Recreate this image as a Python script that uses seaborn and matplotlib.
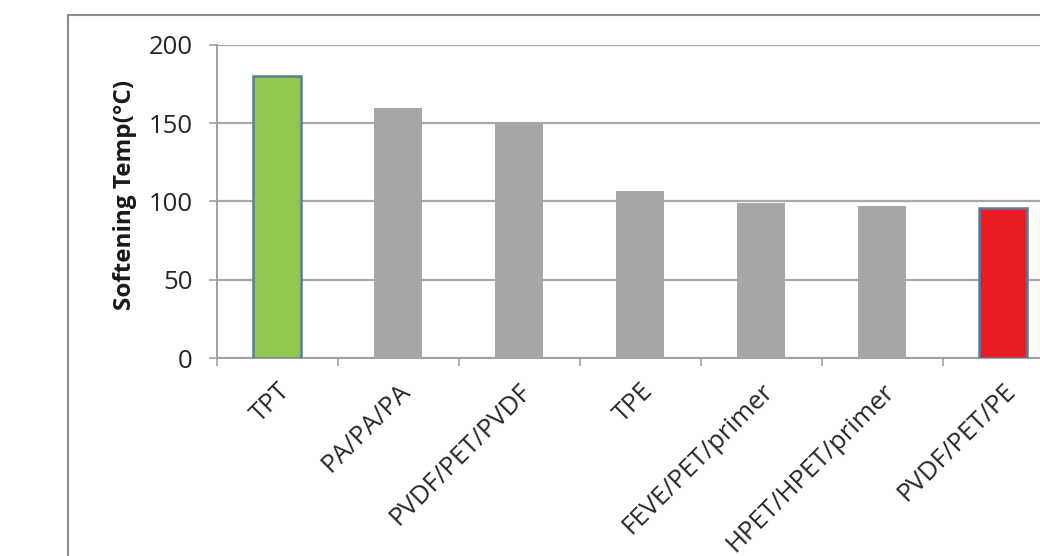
import matplotlib
matplotlib.use("Agg")
import matplotlib.pyplot as plt
import seaborn as sns
from matplotlib.patches import Rectangle

categories = ["TPT", "PA/PA/PA", "PVDF/PET/PVDF", "TPE", "FEVE/PET/primer",
              "HPET/HPET/primer", "PVDF/PET/PE"]
values = [180, 160, 150, 107, 99, 97, 96]
yticks = [0, 50, 100, 150, 200]
ylabel = "Softening Temp(°C)"

bar_colors = ["#92c64e", "#a6a6a6", "#a6a6a6", "#a6a6a6", "#a6a6a6", "#a6a6a6", "#ec1c24"]

sns.set_theme(style="white")
plt.rcParams["font.family"] = ["Open Sans", "DejaVu Sans"]

W, H = 1040, 556
fig = plt.figure(figsize=(W / 100, H / 100), dpi=100)
fig.patch.set_facecolor("white")

# outer frame (partly cut off at right/bottom like the reference)
fig.patches.append(Rectangle((68 / W, -0.1), 1.2, 1 - 15 / H + 0.1,
                             transform=fig.transFigure, fill=False,
                             edgecolor="#8c8c8c", linewidth=1.5, zorder=0))

ax = fig.add_axes([216.5 / W, 1 - 358 / H, 847 / W, (358 - 45) / H])
ax.set_facecolor("none")

sns.barplot(x=categories, y=values, hue=categories, palette=bar_colors,
            order=categories, hue_order=categories, width=0.39,
            legend=False, saturation=1, ax=ax, zorder=3)

for i, p in enumerate(ax.patches):
    if i == 0 or i == len(categories) - 1:
        p.set_edgecolor("#5b7c99")
        p.set_linewidth(1.8)
    else:
        p.set_linewidth(0)

ax.set_xlim(-0.5, len(categories) - 0.5)
ax.set_ylim(0, 200)
ax.set_yticks(yticks)
ax.yaxis.grid(True, color="#a8a8a8", linewidth=1.6, zorder=0)
ax.set_axisbelow(True)

for s in ["top", "right"]:
    ax.spines[s].set_visible(False)
for s in ["left", "bottom"]:
    ax.spines[s].set_visible(True)
    ax.spines[s].set_color("#a0a0a0")
    ax.spines[s].set_linewidth(1.4)

ax.tick_params(axis="y", which="major", left=True, length=6, width=1.2,
               color="#a0a0a0", pad=11, labelsize=18.5, labelcolor="#262626")
ax.set_xticks(range(len(categories)))
ax.set_xticklabels(categories, rotation=45, ha="right", va="top",
                   rotation_mode="anchor", fontsize=18.5, color="#262626")
ax.tick_params(axis="x", which="major", bottom=False, pad=9)
ax.set_xticks([i + 0.5 for i in range(-1, len(categories))], minor=True)
ax.tick_params(axis="x", which="minor", bottom=True, length=6, width=1.2,
               color="#a0a0a0")

ax.set_xlabel("")
ax.set_ylabel(ylabel, fontsize=17.5, fontweight="bold", color="#1a1a1a")
ax.yaxis.set_label_coords(-0.094, 0.52)

fig.savefig("out.png", dpi=100, facecolor="white")
